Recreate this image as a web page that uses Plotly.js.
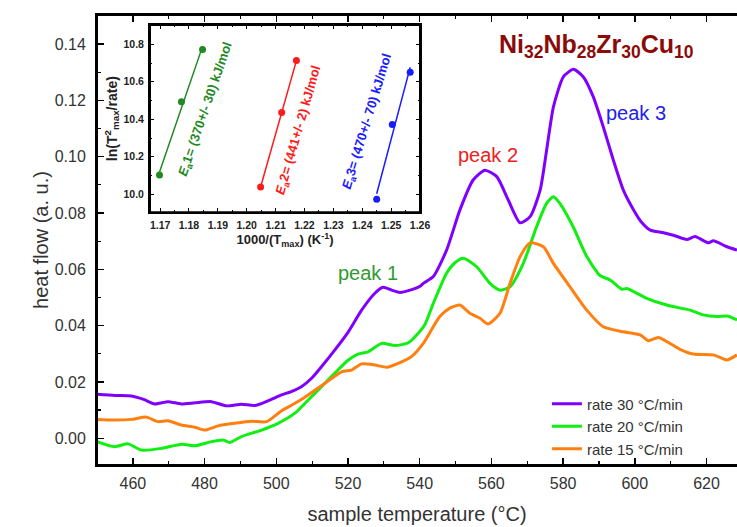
<!DOCTYPE html>
<html>
<head>
<meta charset="utf-8">
<script src="https://cdn.plot.ly/plotly-3.0.1.min.js"></script>
<style>html,body{margin:0;padding:0;background:#fff;overflow:hidden}#chart{width:737px;height:527px}</style>
</head>
<body>
<div id="chart"></div>
<script>
// ---- main DSC curves ----
const T30 = [450,455,459.6,463,466.1,469.8,473.5,477.3,481.9,486.1,490.3,494.0,497.7,501.5,504,507.0,510,512.6,516.3,520.1,523.8,527.5,529.8,532.2,534.5,537.3,540.1,541.0,543.8,547.5,551.2,554.9,558.2,561.5,564.7,568.0,570.8,573.6,575.4,577.3,580.1,582.9,585.6,588.4,591.2,594.0,596.8,599.7,602,604.3,608.0,611,614.5,616.8,620.5,621.9,625.7,628.5];
const HF30 = [0.0156,0.0152,0.0150,0.0138,0.0122,0.0130,0.0122,0.0126,0.0130,0.0115,0.0121,0.0116,0.0133,0.0154,0.0165,0.0183,0.0215,0.0254,0.0313,0.0378,0.0455,0.0515,0.0536,0.0526,0.0518,0.0526,0.0540,0.0550,0.0574,0.0668,0.0810,0.0917,0.0952,0.0929,0.0846,0.0765,0.0787,0.0881,0.1023,0.1177,0.1284,0.1310,0.1284,0.1213,0.1106,0.0988,0.0881,0.0810,0.0765,0.0739,0.0730,0.0720,0.0706,0.0716,0.0694,0.0701,0.0680,0.0668];

const T20 = [450,454.9,458.7,462.4,468.0,473.6,477.3,481.9,485.2,487.0,490.3,495.9,500.5,505.2,508.9,512.6,516.3,520.1,522.8,525.6,529.4,533.1,536.8,539.6,541.5,543.8,547.5,550,552.2,555.9,559.6,562.4,565.2,568.9,572.6,575.4,577.3,579.1,582.8,586.6,590.3,593.1,596.4,597.8,603.3,608.9,615.4,619.1,622.9,625.7,628.5];
const HF20 = [-0.0012,-0.0030,-0.0020,-0.0042,-0.0036,-0.0021,-0.0027,-0.0012,-0.0006,-0.0015,0.0006,0.0029,0.0053,0.0089,0.0136,0.0183,0.0231,0.0278,0.0299,0.0307,0.0337,0.0329,0.0339,0.0373,0.0405,0.0479,0.0586,0.0625,0.0639,0.0609,0.0550,0.0526,0.0538,0.0621,0.0751,0.0834,0.0858,0.0834,0.0751,0.0645,0.0578,0.0562,0.0529,0.0532,0.0497,0.0473,0.0455,0.0438,0.0432,0.0434,0.0420];

const T15 = [450,454.9,459.6,463.8,467.0,469.8,473.5,477.3,480.1,483.8,488.4,493.1,497.3,501.5,505.2,508.9,513.6,518.2,521.0,523.8,527.5,530.8,534.0,537.7,541.0,545.6,548.4,551.2,554.0,556.8,559.1,562.4,565.2,568.0,570.8,574.5,577.3,581.9,586.6,591.2,596.8,601.5,603.8,606.6,612.6,616.3,621.9,625.7,628.5];
const HF15 = [0.0067,0.0065,0.0067,0.0075,0.0059,0.0062,0.0047,0.0039,0.0029,0.0044,0.0053,0.0060,0.0059,0.0098,0.0124,0.0154,0.0195,0.0236,0.0242,0.0264,0.0260,0.0252,0.0266,0.0290,0.0337,0.0432,0.0462,0.0473,0.0444,0.0426,0.0406,0.0444,0.0550,0.0645,0.0694,0.0680,0.0621,0.0538,0.0455,0.0396,0.0378,0.0367,0.0346,0.0358,0.0316,0.0299,0.0296,0.0278,0.0296];

const seriesNames = ["rate 30 °C/min","rate 20 °C/min","rate 15 °C/min"];

// ---- inset Kissinger plot ----
const invT1 = [1.1698,1.1774,1.1847];
const lnY1  = [10.103,10.494,10.772];
const invT2 = [1.2048,1.2121,1.2172];
const lnY2  = [10.039,10.436,10.713];
const invT3 = [1.2450,1.2504,1.2566];
const lnY3  = [9.973,10.372,10.651];
const peakLabels = ["peak 1","peak 2","peak 3"];

function fit(xs, ys){
  const n=xs.length, mx=xs.reduce((a,b)=>a+b)/n, my=ys.reduce((a,b)=>a+b)/n;
  let sxy=0,sxx=0; for(let i=0;i<n;i++){sxy+=(xs[i]-mx)*(ys[i]-my);sxx+=(xs[i]-mx)**2;}
  const k=sxy/sxx, b=my-k*mx;
  const x0=Math.min(...xs), x1=Math.max(...xs);
  return {x:[x0,x1], y:[k*x0+b,k*x1+b]};
}

const C30='#8000ff', C20='#11ee11', C15='#ff8011';
const G='#1f8a1f', R='#ff1a1a', B='#1a1aff';

const traces = [
  {x:T30,y:HF30,name:seriesNames[0],mode:'lines',line:{color:C30,width:3,shape:'spline',smoothing:0.6}},
  {x:T20,y:HF20,name:seriesNames[1],mode:'lines',line:{color:C20,width:3,shape:'spline',smoothing:0.6}},
  {x:T15,y:HF15,name:seriesNames[2],mode:'lines',line:{color:C15,width:3,shape:'spline',smoothing:0.6}}
];
[[invT1,lnY1,G],[invT2,lnY2,R],[invT3,lnY3,B]].forEach(([xs,ys,c])=>{
  const f=fit(xs,ys);
  traces.push({x:f.x,y:f.y,xaxis:'x2',yaxis:'y2',mode:'lines',line:{color:c,width:1.5},showlegend:false,hoverinfo:'skip'});
  traces.push({x:xs,y:ys,xaxis:'x2',yaxis:'y2',mode:'markers',marker:{color:c,size:7},showlegend:false});
});

const ff = 'Liberation Sans, Arial, sans-serif';
const layout = {
  width:737, height:527,
  margin:{l:97,r:0,t:15,b:62},
  paper_bgcolor:'#ffffff', plot_bgcolor:'#ffffff',
  font:{family:ff,color:'#333'},
  showlegend:true,
  legend:{x:0.703,y:0.172,xanchor:'left',yanchor:'top',bgcolor:'rgba(0,0,0,0)',font:{size:15,color:'#333',family:ff},tracegroupgap:0},
  xaxis:{range:[450,628.5],dtick:20,tick0:460,ticks:'inside',ticklen:7,tickwidth:1.5,showline:true,linewidth:2,linecolor:'black',tickcolor:'black',
         mirror:'ticks',showgrid:false,zeroline:false,tickfont:{size:16,color:'#333'},ticklabelstandoff:3,
         minor:{dtick:10,ticks:'inside',ticklen:4,tickcolor:'black',tickwidth:1.2},
         title:{text:'sample temperature (°C)',font:{size:20,color:'#333'},standoff:16}},
  yaxis:{range:[-0.0095,0.1503],dtick:0.02,tick0:0,tickformat:'.2f',ticks:'inside',ticklen:7,tickwidth:1.5,showline:true,linewidth:2,linecolor:'black',tickcolor:'black',
         mirror:false,showgrid:false,zeroline:false,tickfont:{size:16,color:'#333'},ticklabelstandoff:6,
         minor:{dtick:0.01,ticks:'inside',ticklen:4,tickcolor:'black',tickwidth:1.2},
         title:{text:'heat flow (a. u.)',font:{size:20,color:'#333'},standoff:1}},
  xaxis2:{domain:[0.0828,0.5047],anchor:'y2',range:[1.1665,1.26],dtick:0.01,tick0:1.17,tickformat:'.2f',ticks:'inside',ticklen:4,tickwidth:1,
          showline:true,linewidth:2,linecolor:'black',tickcolor:'black',mirror:'allticks',showgrid:false,zeroline:false,
          tickfont:{size:10.5,color:'#222',family:'Liberation Sans, Arial',weight:'bold'},ticklabelstandoff:2,
          minor:{dtick:0.005,ticks:'inside',ticklen:2,tickcolor:'black'},
          title:{text:'<b>1000/(T<sub>max</sub>) (K<sup>-1</sup>)</b>',font:{size:13,color:'#222'},standoff:5}},
  yaxis2:{domain:[0.5616,0.9778],anchor:'x2',range:[9.904,10.903],dtick:0.2,tick0:10,tickformat:'.1f',ticks:'inside',ticklen:4,tickwidth:1,
          showline:true,linewidth:2,linecolor:'black',tickcolor:'black',mirror:'allticks',showgrid:false,zeroline:false,
          tickfont:{size:10.5,color:'#222',family:'Liberation Sans, Arial',weight:'bold'},ticklabelstandoff:2,
          minor:{dtick:0.1,ticks:'inside',ticklen:2,tickcolor:'black'},
          title:{text:'<b>ln(T<sup>2</sup><sub>max</sub>/rate)</b>',font:{size:14,color:'#222'},standoff:3}},
  shapes:[
    {type:'line',xref:'paper',yref:'paper',x0:0,x1:0,y0:0,y1:1,line:{color:'black',width:2},layer:'above'},
    {type:'line',xref:'paper',yref:'paper',x0:0,x1:1,y0:0,y1:0,line:{color:'black',width:2},layer:'above'},
    {type:'line',xref:'paper',yref:'paper',x0:0,x1:1,y0:1,y1:1,line:{color:'black',width:2},layer:'above'},
    {type:'rect',xref:'x2 domain',yref:'y2 domain',x0:0,x1:1,y0:0,y1:1,line:{color:'black',width:2},layer:'above'}
  ],
  annotations:[
    {xref:'paper',yref:'paper',x:0.625,y:0.972,xanchor:'left',text:'<b>Ni<sub>32</sub>Nb<sub>28</sub>Zr<sub>30</sub>Cu<sub>10</sub></b>',showarrow:false,font:{size:25,color:'#8b0a0a',family:ff}},
    {x:525.5,y:0.0587,text:peakLabels[0],showarrow:false,font:{size:20,color:'#2f9a2f',family:ff}},
    {x:559.0,y:0.1006,text:peakLabels[1],showarrow:false,font:{size:20,color:'#ee2020',family:ff}},
    {x:600.2,y:0.1155,text:peakLabels[2],showarrow:false,font:{size:20,color:'#2020ee',family:ff}},
    {xref:'x2',yref:'y2',x:1.1859,y:10.45,text:'<b><i>E</i><sub>a</sub>1= (370+/- 30) kJ/mol</b>',textangle:-71,showarrow:false,font:{size:13,color:G,family:ff}},
    {xref:'x2',yref:'y2',x:1.2182,y:10.343,text:'<b><i>E</i><sub>a</sub>2= (441+/- 2) kJ/mol</b>',textangle:-74,showarrow:false,font:{size:13,color:R,family:ff}},
    {xref:'x2',yref:'y2',x:1.2418,y:10.388,text:'<b><i>E</i><sub>a</sub>3= (470+/- 70) kJ/mol</b>',textangle:-73,showarrow:false,font:{size:13,color:B,family:ff}}
  ]
};
Plotly.newPlot('chart', traces, layout, {displayModeBar:false, staticPlot:true});
</script>
</body>
</html>
